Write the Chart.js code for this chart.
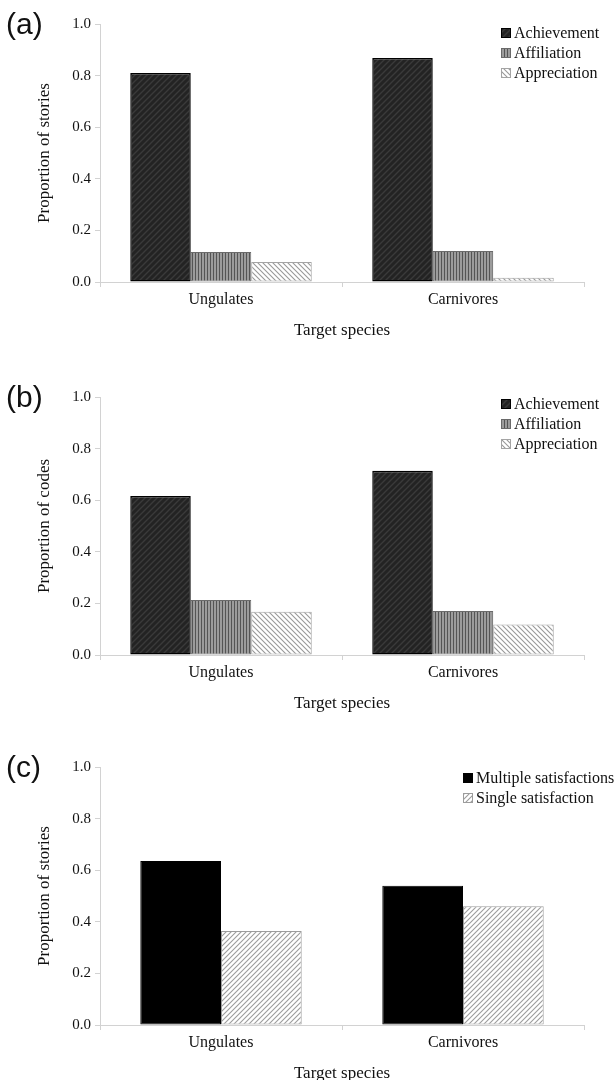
<!DOCTYPE html>
<html><head><meta charset="utf-8">
<script src="https://cdn.jsdelivr.net/npm/chart.js@4.4.0/dist/chart.umd.min.js"></script>
<style>
html,body{margin:0;padding:0;background:#fff;overflow:hidden;width:614px;height:1080px;}
canvas{position:absolute;left:0;}
</style></head><body>
<canvas id="ca" width="614" height="350" style="top:0px"></canvas>
<canvas id="cb" width="614" height="350" style="top:373px"></canvas>
<canvas id="cc" width="614" height="350" style="top:743px"></canvas>
<script>
// ---- data ----
const categories = ['Ungulates', 'Carnivores'];
const yTickValues = [0, 0.2, 0.4, 0.6, 0.8, 1.0];
const motivationSeries = ['Achievement', 'Affiliation', 'Appreciation'];
const satisfactionSeries = ['Multiple satisfactions', 'Single satisfaction'];
const storiesAchievement = [0.81, 0.868];
const storiesAffiliation = [0.116, 0.12];
const storiesAppreciation = [0.078, 0.016];
const codesAchievement = [0.616, 0.714];
const codesAffiliation = [0.213, 0.171];
const codesAppreciation = [0.168, 0.118];
const multipleSatisfactions = [0.636, 0.54];
const singleSatisfaction = [0.364, 0.46];
const panelLabels = ['(a)', '(b)', '(c)'];
const yTitles = ['Proportion of stories', 'Proportion of codes', 'Proportion of stories'];
const xTitle = 'Target species';

// ---- patterns ----
function makePattern(type) {
  const c = document.createElement('canvas');
  const ctx = c.getContext('2d');
  if (type === 'vert') {
    c.width = 3; c.height = 4;
    ctx.fillStyle = '#9c9c9c'; ctx.fillRect(0, 0, 3, 4);
    ctx.fillStyle = '#555555'; ctx.fillRect(0, 0, 1, 4);
    return ctx.createPattern(c, 'repeat');
  }
  let s, bg, fg, lw, dir;
  if (type === 'dark') { s = 6; bg = '#232323'; fg = '#3a3a3a'; lw = 1.4; dir = 'fwd'; }
  else if (type === 'back') { s = 5; bg = '#ffffff'; fg = '#999999'; lw = 1.1; dir = 'back'; }
  else { s = 5; bg = '#ffffff'; fg = '#9c9c9c'; lw = 1.1; dir = 'fwd'; }
  c.width = s; c.height = s;
  ctx.fillStyle = bg; ctx.fillRect(0, 0, s, s);
  ctx.strokeStyle = fg; ctx.lineWidth = lw;
  ctx.beginPath();
  if (dir === 'fwd') {
    ctx.moveTo(-1, s + 1); ctx.lineTo(s + 1, -1);
    ctx.moveTo(-1, 1); ctx.lineTo(1, -1);
    ctx.moveTo(s - 1, s + 1); ctx.lineTo(s + 1, s - 1);
  } else {
    ctx.moveTo(-1, -1); ctx.lineTo(s + 1, s + 1);
    ctx.moveTo(s - 1, -1); ctx.lineTo(s + 1, 1);
    ctx.moveTo(-1, s - 1); ctx.lineTo(1, s + 1);
  }
  ctx.stroke();
  return ctx.createPattern(c, 'repeat');
}
const patDark = makePattern('dark');
const patVert = makePattern('vert');
const patBack = makePattern('back');
const patFwd = makePattern('fwd');

const SERIF = '"Liberation Serif", "Times New Roman", serif';
const TXT = '#111111';
const AXIS = '#d2d2d2';

const decor = {
  id: 'decor',
  afterDraw(chart, args, opts) {
    const ctx = chart.ctx; const ca = chart.chartArea;
    ctx.save();
    ctx.fillStyle = '#111';
    ctx.font = '30px "Liberation Sans", Arial, sans-serif';
    ctx.textBaseline = 'middle'; ctx.textAlign = 'left';
    ctx.fillText(opts.label, 6, ca.top + 2);
    ctx.font = '16px ' + SERIF;
    chart.data.datasets.forEach((ds, i) => {
      const y = ca.top + opts.legendTop + i * 20;
      ctx.fillStyle = ds.backgroundColor;
      ctx.fillRect(opts.legendX, y - 5, 10, 10);
      ctx.strokeStyle = ds.borderColor; ctx.lineWidth = 1;
      ctx.strokeRect(opts.legendX + 0.5, y - 4.5, 9, 9);
      ctx.fillStyle = TXT;
      ctx.fillText(ds.label, opts.legendX + 13, y + 1);
    });
    ctx.restore();
  }
};

function makeChart(id, datasets, panelIdx, catPct, legendX, legendTop) {
  return new Chart(document.getElementById(id), {
    type: 'bar',
    data: { labels: categories, datasets },
    plugins: [decor],
    options: {
      responsive: false,
      animation: false,
      layout: { padding: { top: 24, right: 30, left: 0, bottom: 0 } },
      datasets: { bar: { categoryPercentage: catPct, barPercentage: 1.0, borderSkipped: false } },
      plugins: {
        legend: { display: false },
        tooltip: { enabled: false },
        decor: { label: panelLabels[panelIdx], legendX, legendTop }
      },
      scales: {
        x: {
          afterFit: s => { s.height = 68; },
          grid: { display: true, drawOnChartArea: false, drawTicks: true, tickLength: 5, color: AXIS, offset: true },
          border: { display: true, color: AXIS, width: 1 },
          ticks: { color: TXT, font: { family: SERIF, size: 16 }, padding: 3 },
          title: { display: true, text: xTitle, color: TXT, font: { family: SERIF, size: 17 }, padding: { top: 0, bottom: 9 } }
        },
        y: {
          min: 0, max: 1,
          afterFit: s => { s.width = 100; },
          afterBuildTicks: s => { s.ticks = yTickValues.map(v => ({ value: v })); },
          grid: { display: true, drawOnChartArea: false, drawTicks: true, tickLength: 5, color: AXIS },
          border: { display: true, color: AXIS, width: 1 },
          ticks: { color: TXT, font: { family: SERIF, size: 15 }, padding: 4, callback: v => Number(v).toFixed(1) },
          title: { display: true, text: yTitles[panelIdx], color: TXT, font: { family: SERIF, size: 17 }, padding: { top: 34, bottom: 0 } }
        }
      }
    }
  });
}

makeChart('ca', [
  { label: motivationSeries[0], data: storiesAchievement, backgroundColor: patDark, borderColor: '#000000', borderWidth: 1.5 },
  { label: motivationSeries[1], data: storiesAffiliation, backgroundColor: patVert, borderColor: '#6a6a6a', borderWidth: 1 },
  { label: motivationSeries[2], data: storiesAppreciation, backgroundColor: patBack, borderColor: '#a4a4a4', borderWidth: 1 }
], 0, 0.75, 501, 9);

makeChart('cb', [
  { label: motivationSeries[0], data: codesAchievement, backgroundColor: patDark, borderColor: '#000000', borderWidth: 1.5 },
  { label: motivationSeries[1], data: codesAffiliation, backgroundColor: patVert, borderColor: '#6a6a6a', borderWidth: 1 },
  { label: motivationSeries[2], data: codesAppreciation, backgroundColor: patBack, borderColor: '#a4a4a4', borderWidth: 1 }
], 1, 0.75, 501, 7);

makeChart('cc', [
  { label: satisfactionSeries[0], data: multipleSatisfactions, backgroundColor: '#000000', borderColor: '#000000', borderWidth: 1 },
  { label: satisfactionSeries[1], data: singleSatisfaction, backgroundColor: patFwd, borderColor: '#9c9c9c', borderWidth: 1 }
], 2, 0.667, 463, 11);
</script>
</body></html>
